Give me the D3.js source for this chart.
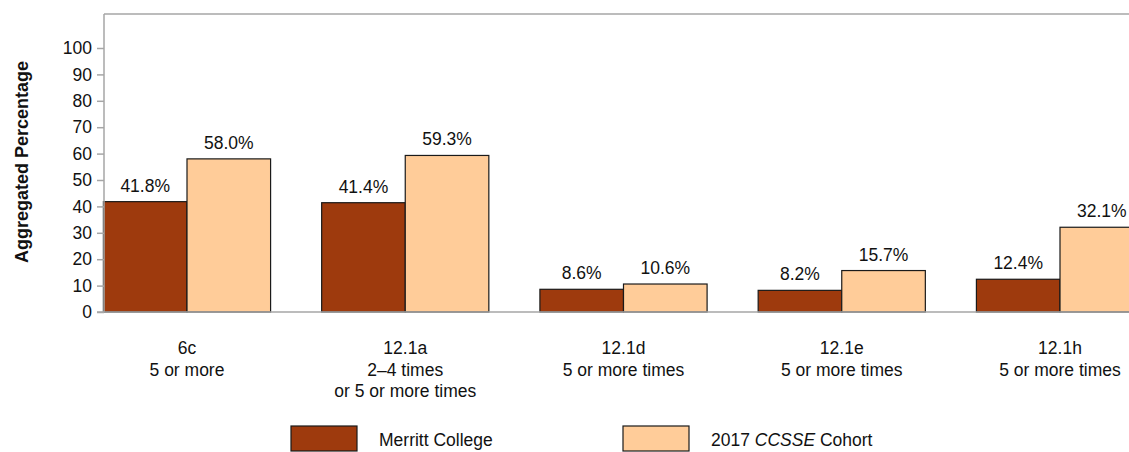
<!DOCTYPE html>
<html>
<head>
<meta charset="utf-8">
<script src="https://cdn.jsdelivr.net/npm/d3@7/dist/d3.min.js"></script>
<style>
  body { margin: 0; background: #fff; }
  svg { display: block; }
  svg text { font-family: "Liberation Sans", Arial, sans-serif; }
</style>
</head>
<body>
<svg id="chart" width="1129" height="452"></svg>
<script>
const categories = ["6c", "12.1a", "12.1d", "12.1e", "12.1h"];
const categoryLines = [
  ["6c", "5 or more"],
  ["12.1a", "2\u20134 times", "or 5 or more times"],
  ["12.1d", "5 or more times"],
  ["12.1e", "5 or more times"],
  ["12.1h", "5 or more times"]
];
const seriesNames = ["Merritt College", "2017 CCSSE Cohort"];
const merrittValues = [41.8, 41.4, 8.6, 8.2, 12.4];
const cohortValues = [58.0, 59.3, 10.6, 15.7, 32.1];
const yTicks = [0, 10, 20, 30, 40, 50, 60, 70, 80, 90, 100];
const colors = ["#9E3A0D", "#FFCC99"];

const FS = 17.5;
const svg = d3.select("#chart");
const W = 1129, H = 452;
const axisX = 104, topY = 14;

const y = d3.scaleLinear().domain([0, 100]).range([312, 48]);
const step = 218.25;
const x0 = d3.scaleBand().domain(categories)
  .range([187 - step / 2, 187 - step / 2 + step * categories.length])
  .paddingInner(0.234).paddingOuter(0.117);
const x1 = d3.scaleBand().domain([0, 1]).range([0, x0.bandwidth()]);

// top border
svg.append("line").attr("x1", axisX).attr("x2", W).attr("y1", topY).attr("y2", topY)
  .attr("stroke", "#a6a6a6").attr("stroke-width", 1.5);

// bars
const series = [merrittValues, cohortValues];
const g = svg.append("g");
categories.forEach((c, i) => {
  series.forEach((vals, s) => {
    const bx = x0(c) + x1(s);
    const v = vals[i];
    g.append("rect")
      .attr("x", bx).attr("y", y(v))
      .attr("width", x1.bandwidth()).attr("height", y(0) - y(v))
      .attr("fill", colors[s]).attr("stroke", "#1a1a1a").attr("stroke-width", 1.2);
    g.append("text")
      .attr("x", bx + x1.bandwidth() / 2).attr("y", y(v) - 10)
      .attr("text-anchor", "middle").attr("font-size", FS).attr("fill", "#111")
      .text(v.toFixed(1) + "%");
  });
});

// y axis
const yAxis = d3.axisLeft(y).tickValues(yTicks).tickSize(7).tickPadding(5).tickSizeOuter(0);
const ya = svg.append("g").attr("transform", `translate(${axisX},0)`).call(yAxis)
  .attr("font-family", null).attr("font-size", null);
ya.select(".domain").attr("stroke", "#a6a6a6").attr("stroke-width", 1.5)
  .attr("d", `M0,${topY}V${y(0)}`);
ya.selectAll(".tick line").attr("stroke", "#a6a6a6").attr("stroke-width", 1.5);
ya.selectAll(".tick text").attr("font-size", FS).attr("fill", "#111");

// x axis baseline
svg.append("line").attr("x1", axisX - 7).attr("x2", W).attr("y1", y(0)).attr("y2", y(0))
  .attr("stroke", "#a6a6a6").attr("stroke-width", 1.5);

// category labels
categories.forEach((c, i) => {
  const cx = x0(c) + x0.bandwidth() / 2;
  const t = svg.append("text").attr("text-anchor", "middle").attr("font-size", FS).attr("fill", "#111");
  categoryLines[i].forEach((line, k) => {
    t.append("tspan").attr("x", cx).attr("y", 354 + k * 21.5).text(line);
  });
});

// y title
svg.append("text")
  .attr("transform", `translate(28,162) rotate(-90)`)
  .attr("text-anchor", "middle").attr("font-size", 18).attr("font-weight", "bold").attr("fill", "#111")
  .text("Aggregated Percentage");

// legend
const legendX = [291, 623];
seriesNames.forEach((name, s) => {
  svg.append("rect").attr("x", legendX[s]).attr("y", 426).attr("width", 66).attr("height", 25)
    .attr("fill", colors[s]).attr("stroke", "#1a1a1a").attr("stroke-width", 1.2);
  const t = svg.append("text").attr("x", legendX[s] + 88).attr("y", 446)
    .attr("font-size", FS).attr("fill", "#111");
  if (s === 1) {
    t.append("tspan").text("2017 ");
    t.append("tspan").attr("font-style", "italic").text("CCSSE");
    t.append("tspan").text(" Cohort");
  } else {
    t.text(name);
  }
});
</script>
</body>
</html>
